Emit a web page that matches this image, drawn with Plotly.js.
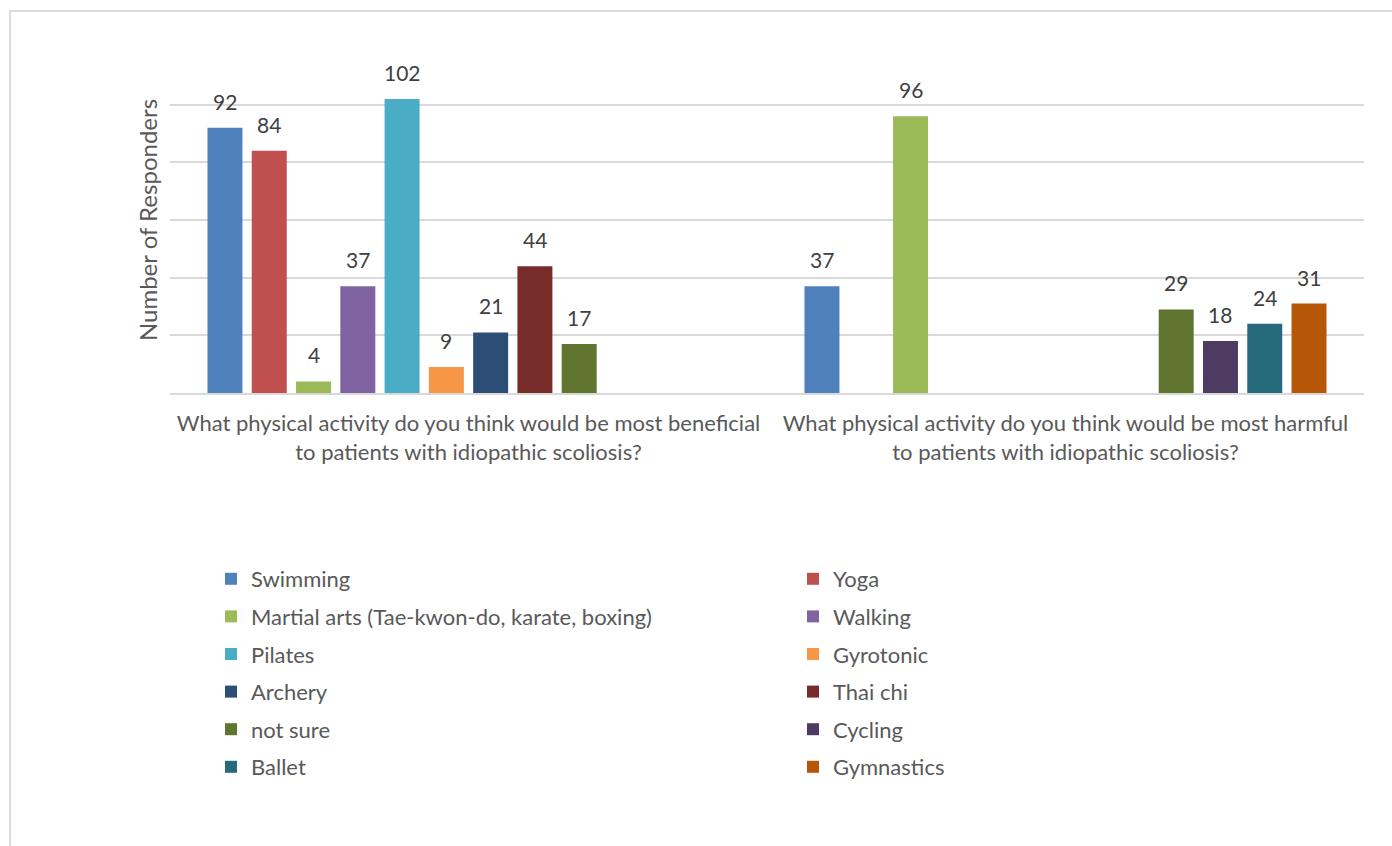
<!DOCTYPE html>
<html>
<head>
<meta charset="utf-8">
<script src="https://cdn.plot.ly/plotly-3.0.1.min.js"></script>
<style>
  html, body { margin: 0; padding: 0; background: #fff; overflow: hidden; }
  #chart { width: 1392px; height: 846px; }
  #frame { position: absolute; left: 9px; top: 10px; width: 1420px; height: 900px;
           border: 2px solid #DCDCDC; pointer-events: none; box-sizing: border-box; }
</style>
</head>
<body>
<div id="chart"></div>
<div id="frame"></div>
<script>
const categories = [
  "What physical activity do you think would be most beneficial<br>to patients with idiopathic scoliosis?",
  "What physical activity do you think would be most harmful<br>to patients with idiopathic scoliosis?"
];
const seriesNames = ["Swimming", "Yoga", "Martial arts (Tae-kwon-do, karate, boxing)", "Walking",
  "Pilates", "Gyrotonic", "Archery", "Thai chi", "not sure", "Cycling", "Ballet", "Gymnastics"];
const swimming   = [92, 37];
const yoga       = [84, null];
const martialArts= [4, 96];
const walking    = [37, null];
const pilates    = [102, null];
const gyrotonic  = [9, null];
const archery    = [21, null];
const thaiChi    = [44, null];
const notSure    = [17, 29];
const cycling    = [null, 18];
const ballet     = [null, 24];
const gymnastics = [null, 31];
const seriesValues = [swimming, yoga, martialArts, walking, pilates, gyrotonic, archery, thaiChi, notSure, cycling, ballet, gymnastics];
const colors = ["#4F81BD", "#C0504D", "#9BBB59", "#8064A2", "#4BACC6", "#F79646",
  "#2C4D75", "#772C2A", "#5F7530", "#4D3B62", "#276A7C", "#B65708"];

const FONT = "Lato, 'Open Sans', sans-serif";
const BARGAP = 0.11;
const NS = seriesNames.length;

const traces = seriesNames.map((name, i) => ({
  type: "bar",
  name: name,
  x: categories,
  y: seriesValues[i],
  marker: { color: colors[i] },
  legend: (i % 2 === 0) ? "legend" : "legend2",
  legendgroup: "g" + i,
  hoverinfo: "x+y+name"
}));

// data labels placed above each bar, following the grouped-bar slots of the category axis
const annotations = [];
seriesValues.forEach((vals, i) => {
  vals.forEach((v, j) => {
    if (v === null) return;
    annotations.push({
      x: j + (i - (NS - 1) / 2) * (1 - BARGAP) / NS,
      y: v, xref: "x", yref: "y",
      text: String(v), showarrow: false,
      yanchor: "bottom", yshift: 12,
      font: { family: FONT, size: 21, color: "#404040" }
    });
  });
});

const legendFont = { family: FONT, size: 22, color: "#595959" };

const layout = {
  width: 1392, height: 846,
  paper_bgcolor: "#ffffff", plot_bgcolor: "#ffffff",
  margin: { l: 170, r: 28, t: 47, b: 453 },
  barmode: "group",
  bargap: BARGAP,
  bargroupgap: 0.21,
  font: { family: FONT, color: "#595959" },
  xaxis: {
    type: "category",
    showgrid: false,
    showline: true, linecolor: "#D9D9D9", linewidth: 2,
    ticks: "",
    ticklabelstandoff: 10,
    tickfont: { family: FONT, size: 22, color: "#595959" },
    automargin: false
  },
  yaxis: {
    range: [0, 120], dtick: 20,
    showgrid: true, gridcolor: "#D9D9D9", gridwidth: 2,
    zeroline: false,
    showticklabels: false, ticks: "",
    automargin: false,
    title: { text: "Number of Responders", standoff: 4,
             font: { family: FONT, size: 24, color: "#595959" } }
  },
  annotations: annotations,
  showlegend: true,
  legend: {
    x: (211 - 170) / 1194, y: (393 - 558) / 346, xanchor: "left", yanchor: "top",
    orientation: "v", tracegroupgap: 6, bgcolor: "rgba(0,0,0,0)",
    font: legendFont
  },
  legend2: {
    x: (793 - 170) / 1194, y: (393 - 558) / 346, xanchor: "left", yanchor: "top",
    orientation: "v", tracegroupgap: 6, bgcolor: "rgba(0,0,0,0)",
    font: legendFont
  }
};

Plotly.newPlot("chart", traces, layout, { displayModeBar: false, staticPlot: true });
</script>
</body>
</html>
